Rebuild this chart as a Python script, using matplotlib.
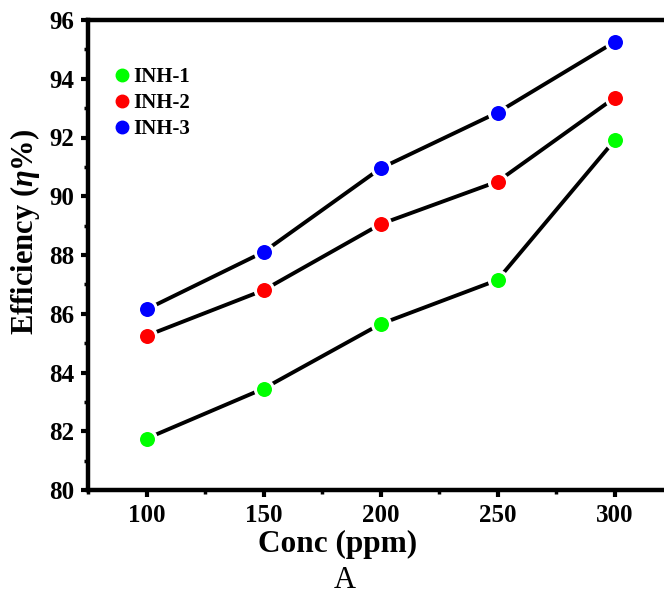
import numpy as np
import matplotlib
matplotlib.use("Agg")
import matplotlib.pyplot as plt
from matplotlib.ticker import MultipleLocator

conc = [100, 150, 200, 250, 300]
inh1 = [81.75, 83.45, 85.65, 87.15, 91.9]
inh2 = [85.25, 86.8, 89.05, 90.5, 93.35]
inh3 = [86.15, 88.1, 90.95, 92.85, 95.25]
labels = ["INH-1", "INH-2", "INH-3"]
colors = ["#00ff00", "#ff0000", "#0000ff"]

plt.rcParams["font.family"] = "Liberation Serif"
plt.rcParams["font.weight"] = "bold"
plt.rcParams["mathtext.fontset"] = "custom"
plt.rcParams["mathtext.it"] = "Liberation Serif:bold:italic"
plt.rcParams["mathtext.rm"] = "Liberation Serif:bold"

fig = plt.figure(figsize=(6.64, 5.96), dpi=100)
ax = fig.add_axes([88 / 664, 106 / 596, 585 / 664, 470 / 596])

for ys, lab, c in zip([inh1, inh2, inh3], labels, colors):
    ax.plot(conc, ys, color="black", lw=2.8, zorder=1)
    ax.plot(conc, ys, ls="none", marker="o", ms=13, mfc=c, mec="white",
            mew=2.2, zorder=2)
    ax.plot([], [], ls="none", marker="o", ms=9, mfc=c, mec=c, label=lab)

ax.set_xlim(75, 325)
ax.set_ylim(80, 96)
ax.xaxis.set_major_locator(MultipleLocator(50))
ax.xaxis.set_minor_locator(MultipleLocator(25))
ax.yaxis.set_major_locator(MultipleLocator(2))
ax.yaxis.set_minor_locator(MultipleLocator(1))

for s in ax.spines.values():
    s.set_linewidth(3.2)
ax.tick_params(which="major", direction="out", length=5, width=3,
               labelsize=18, pad=5)
ax.tick_params(which="minor", direction="out", length=3, width=2.5)
for t in ax.get_xticklabels() + ax.get_yticklabels():
    t.set_fontweight("bold")

ax.set_xlabel("Conc (ppm)", fontsize=22.5, fontweight="bold")
ax.set_ylabel(r"Efficiency $\mathit{(\eta\%)}$", fontsize=22,
              fontweight="bold")
ax.xaxis.set_label_coords(0.426, -0.085)
ax.yaxis.set_label_coords(-0.078, 0.55)

leg = ax.legend(loc="upper left", bbox_to_anchor=(0.008, 0.94), frameon=False,
                prop={"family": "Liberation Serif", "weight": "bold", "size": 15},
                handletextpad=0.05, labelspacing=0.3, handlelength=1.0)

fig.text(345 / 664, 1.5 / 596, "A", ha="center", va="bottom",
         fontsize=22, fontweight="normal")

fig.savefig("out.png", dpi=100)
